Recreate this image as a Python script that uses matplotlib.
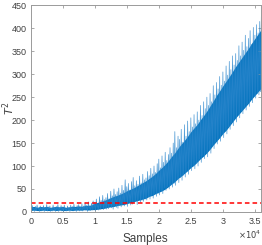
import numpy as np
import matplotlib
matplotlib.use("Agg")
import matplotlib.pyplot as plt

# T^2 statistic, peaks and troughs (one value every 125 samples)
t2_values = [
    35, 2, 14, 5, 9, 1, 12, 3, 15, 6, 8, 1, 13, 2, 10, 4,
    14, 1, 9, 3, 16, 2, 11, 5, 13, 1, 8, 2, 15, 4, 10, 1,
    12, 3, 16, 1, 9, 5, 14, 2, 11, 1, 15, 3, 8, 2, 13, 4,
    10, 1, 15, 3, 12, 2, 17, 5, 9, 1, 14, 4, 16, 2, 11, 3,
    18, 2, 13, 5, 20, 3, 15, 1, 22, 6, 14, 3, 19, 4, 24, 5,
    21, 3, 28, 7, 17, 4, 33, 6, 25, 9, 36, 5, 27, 8, 31, 6,
    40, 7, 29, 12, 45, 9, 35, 6, 50, 13, 38, 10, 44, 8, 52, 14,
    41, 11, 58, 16, 47, 13, 70, 18, 55, 12, 62, 20, 48, 15, 66, 17,
    75, 19, 57, 24, 68, 16, 60, 27, 78, 21, 63, 25, 82, 23, 70, 28,
    74, 26, 88, 33, 79, 28, 95, 36, 83, 30, 100, 38, 86, 34, 105, 40,
    115, 37, 96, 45, 122, 40, 108, 52, 130, 47, 112, 55, 125, 50, 140, 58,
    128, 54, 150, 62, 175, 58, 140, 70, 165, 64, 158, 75, 180, 69, 152, 80,
    190, 76, 165, 88, 198, 82, 175, 95, 205, 90, 185, 100, 212, 94, 192, 106,
    218, 100, 200, 115, 232, 108, 210, 122, 240, 116, 225, 128, 250, 120, 232, 135,
    258, 128, 240, 145, 275, 138, 255, 152, 282, 148, 268, 160, 295, 154, 276, 168,
    305, 162, 285, 178, 318, 170, 298, 185, 328, 180, 310, 195, 340, 188, 320, 202,
    345, 196, 330, 212, 362, 205, 340, 220, 370, 214, 352, 228, 385, 222, 360, 236,
    378, 230, 395, 245, 365, 238, 402, 252, 385, 248, 408, 258, 390, 255, 415, 262,
    425,
]
sample_step = 125

# dense core of the band, one pair every 500 samples
core_low = [
    3, 4, 3, 3, 4, 3, 3, 4, 3, 4, 3, 3, 4, 3, 4, 4, 4, 5, 4, 5,
    5, 6, 7, 8, 10, 11, 12, 14, 15, 16, 18, 20, 22, 24, 26, 28, 30, 34, 36, 40,
    43, 46, 50, 55, 61, 66, 73, 78, 84, 90, 97, 102, 109, 116, 122, 129, 137, 146, 154, 162,
    171, 178, 187, 196, 205, 213, 221, 229, 237, 246, 254, 262, 270,
]
core_high = [
    11, 12, 10, 12, 11, 12, 10, 11, 12, 11, 12, 10, 11, 12, 12, 13, 12, 14, 14, 15,
    19, 21, 23, 25, 28, 31, 34, 36, 39, 42, 46, 49, 52, 56, 60, 64, 68, 73, 78, 84,
    91, 97, 104, 112, 121, 129, 139, 148, 156, 165, 175, 183, 191, 201, 210, 220, 231, 242, 254, 264,
    275, 285, 295, 306, 317, 327, 337, 347, 357, 368, 378, 388, 398,
]
core_step = 500

threshold = 18.5

x_ticks = [0, 5000, 10000, 15000, 20000, 25000, 30000, 35000]
x_tick_labels = ["0", "0.5", "1", "1.5", "2", "2.5", "3", "3.5"]
y_ticks = list(range(0, 451, 50))

plt.rcParams['font.family'] = ['Liberation Sans', 'DejaVu Sans']
text_color = '#404040'
axis_color = '#9a9a9a'
blue = '#0072BD'

fig = plt.figure(figsize=(2.62, 2.45), dpi=100)
ax = fig.add_axes([0.117, 0.135, 0.878, 0.843])

samples = np.arange(len(t2_values)) * sample_step
core_x = np.arange(len(core_low)) * core_step
ax.fill_between(core_x, core_low, core_high, color=blue, lw=0)
ax.plot(samples, t2_values, color='#2b86cc', lw=0.5, alpha=0.85)
ax.axhline(threshold, color='#FF0000', lw=1.1, dashes=(3, 2))

ax.set_xlim(0, 35900)
ax.set_ylim(0, 450)
ax.set_xticks(x_ticks)
ax.set_xticklabels(x_tick_labels)
ax.set_yticks(y_ticks)

ax.tick_params(direction='in', length=2.5, width=0.6, colors=axis_color,
               labelcolor=text_color, labelsize=6.5, top=True, right=True)
ax.tick_params(axis='x', pad=4)
ax.tick_params(axis='y', pad=3)
for sp in ax.spines.values():
    sp.set_color(axis_color)
    sp.set_linewidth(0.7)

ax.set_xlabel('Samples', fontsize=8.5, color=text_color, labelpad=5)
fig.text(0.035, 0.56, r'$T^2$', rotation=90, ha='center', va='center',
         fontsize=8, color=text_color, family='DejaVu Serif')
ax.text(1.0, -0.112, r'$\times10^4$', transform=ax.transAxes, ha='right', va='center',
        fontsize=6, color=text_color)

fig.savefig('out.png', dpi=100)
